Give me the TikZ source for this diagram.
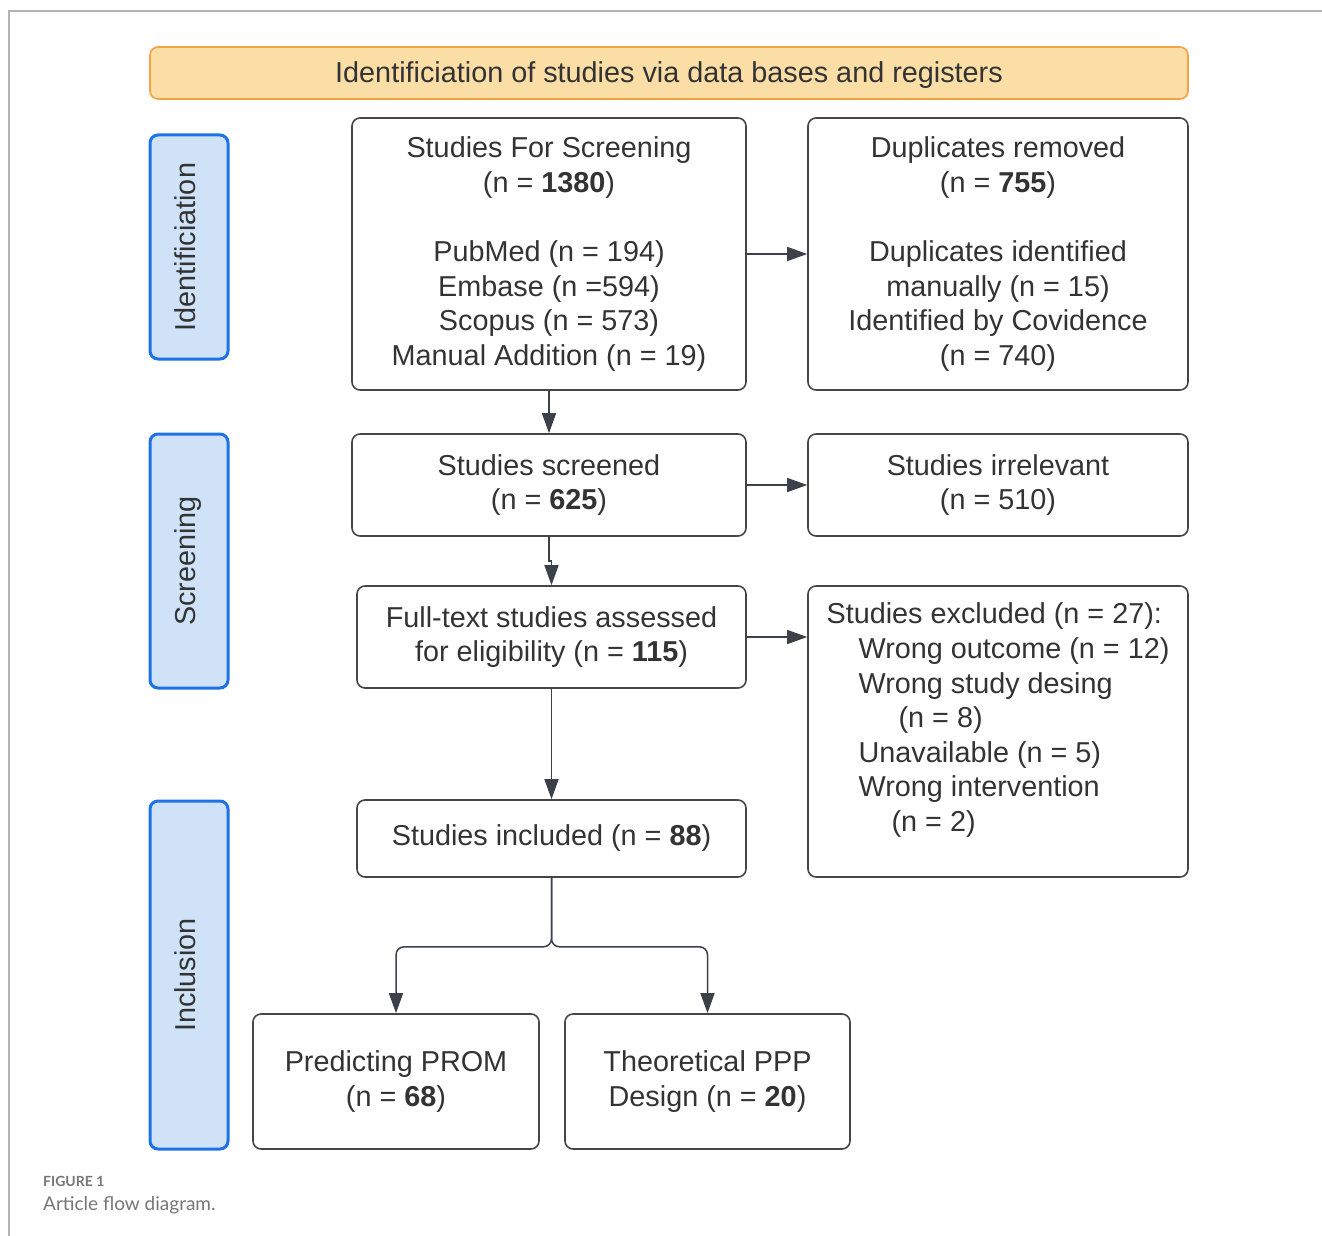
\documentclass[tikz,border=0pt]{standalone}
\usepackage{fontspec}
\setmainfont{Liberation Sans}
\newfontfamily\capfont{Lato}
\usetikzlibrary{arrows.meta}

\definecolor{txtgray}{RGB}{51,51,51}
\definecolor{boxline}{RGB}{70,70,72}
\definecolor{arrowgray}{RGB}{59,64,73}
\definecolor{bannerfill}{RGB}{251,221,166}
\definecolor{bannerline}{RGB}{244,163,68}
\definecolor{phasefill}{RGB}{207,226,248}
\definecolor{phaseline}{RGB}{28,114,230}
\definecolor{framegray}{RGB}{180,180,180}
\definecolor{capgray}{RGB}{118,118,118}

\newcommand{\flowfont}{\fontsize{28.8}{34.6}\selectfont}

\tikzset{
  flowbox/.style={draw=boxline, line width=1.6pt, rounded corners=8pt, align=center,
    text=txtgray, inner sep=0pt, font=\flowfont},
  phasebox/.style={draw=phaseline, fill=phasefill, line width=3pt, rounded corners=8pt,
    text=txtgray, inner sep=0pt, font=\flowfont, rotate=90, minimum height=78pt,
    text height=20pt, text depth=8pt},
  arr/.style={-{Triangle[length=20pt,width=14pt,fill=arrowgray]}, line width=1.5pt, draw=arrowgray}
}

\begin{document}
\begin{tikzpicture}[x=1pt, y=-1pt]
  \useasboundingbox (0,0) rectangle (1322,1236);
  % frame
  \draw[framegray, line width=1.2pt] (1322,11) -- (9,11) -- (9,1236);

  % banner
  \node[draw=bannerline, fill=bannerfill, line width=1.6pt, rounded corners=8pt,
        minimum width=1038pt, minimum height=52pt, text=txtgray, font=\flowfont, inner sep=0pt,
        text height=20pt, text depth=0pt]
        (banner) at (669,73) {Identificiation of studies via data bases and registers};

  % phases
  \node[phasebox, minimum width=224pt] (phident) at (189,247) {Identificiation};
  \node[phasebox, minimum width=254pt] (phscreen) at (189,561) {Screening};
  \node[phasebox, minimum width=348pt] (phincl) at (189,975) {Inclusion};

  % boxes
  \node[flowbox, minimum width=394pt, minimum height=272pt] (search) at (549,254)
    {Studies For Screening\\(n = \textbf{1380})\\[34.6pt]PubMed (n = 194)\\Embase (n =594)\\Scopus (n = 573)\\Manual Addition (n = 19)};
  \node[flowbox, minimum width=380pt, minimum height=272pt] (dupl) at (998,254)
    {Duplicates removed\\(n = \textbf{755})\\[34.6pt]Duplicates identified\\manually (n = 15)\\Identified by Covidence\\(n = 740)};
  \node[flowbox, minimum width=394pt, minimum height=102pt] (screened) at (549,485)
    {Studies screened\\(n = \textbf{625})};
  \node[flowbox, minimum width=380pt, minimum height=102pt] (irrel) at (998,485)
    {Studies irrelevant\\(n = 510)};
  \node[flowbox, minimum width=389pt, minimum height=102pt] (fulltext) at (551.5,637)
    {Full-text studies assessed\\for eligibility (n = \textbf{115})};
  \node[flowbox, minimum width=380pt, minimum height=291pt, align=left] (excluded) at (998,731.5)
    {Studies excluded (n = 27):\\
     \hspace*{32pt}Wrong outcome (n = 12)\\
     \hspace*{32pt}Wrong study desing\\
     \hspace*{72pt}(n = 8)\\
     \hspace*{32pt}Unavailable (n = 5)\\
     \hspace*{32pt}Wrong intervention\\
     \hspace*{65pt}(n = 2)\\[-6pt]};
  \node[flowbox, minimum width=389pt, minimum height=77pt] (included) at (551.5,838.5)
    {Studies included (n = \textbf{88})};
  \node[flowbox, minimum width=286pt, minimum height=135pt] (predict) at (396,1081.5)
    {Predicting PROM\\(n = \textbf{68})};
  \node[flowbox, minimum width=285pt, minimum height=135pt] (theory) at (707.5,1081.5)
    {Theoretical PPP\\Design (n = \textbf{20})};

  % connectors
  \draw[arr] (search) -- (dupl);
  \draw[arr] (search) -- (screened);
  \draw[arr] (screened) -- (irrel);
  \draw[arr] (screened.south) -- ++(0,24) -| (fulltext.north);
  \draw[arr] (fulltext.east) -- (fulltext.east -| excluded.west);
  \draw[arr] (fulltext) -- (included);
  \draw[arr, rounded corners=8pt] (included.south) -- ++(0,69) -| (predict.north);
  \draw[arr, rounded corners=8pt] (included.south) -- ++(0,69) -| (theory.north);

  % caption
  \node[anchor=west, inner sep=0pt, text=capgray, font=\capfont\fontsize{14}{16}\selectfont\bfseries]
    (capnum) at (43,1181) {FIGURE 1};
  \node[anchor=west, inner sep=0pt, text=capgray, font=\capfont\fontsize{19}{22}\selectfont]
    (captext) at (43,1205) {Article flow diagram.};
\end{tikzpicture}
\end{document}
